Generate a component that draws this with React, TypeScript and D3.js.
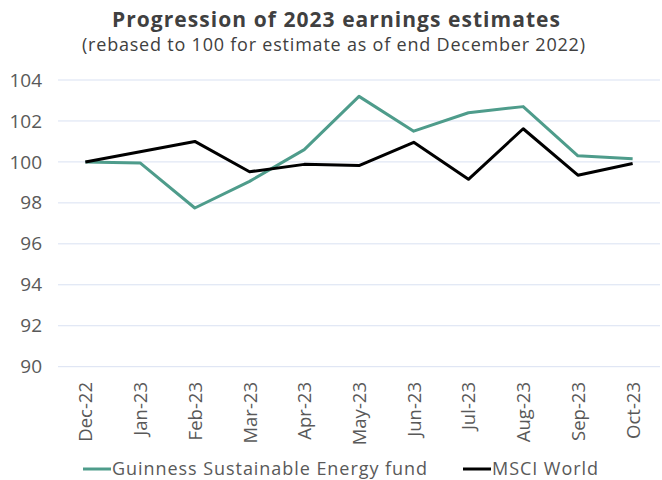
import React, { useEffect, useRef } from "react";
import * as d3 from "d3";

const months = ["Dec-22", "Jan-23", "Feb-23", "Mar-23", "Apr-23", "May-23", "Jun-23", "Jul-23", "Aug-23", "Sep-23", "Oct-23"];
const guinness = [100, 99.95, 97.75, 99.05, 100.6, 103.2, 101.5, 102.4, 102.7, 100.3, 100.15];
const msci = [100, 100.5, 101.0, 99.52, 99.88, 99.82, 100.96, 99.15, 101.62, 99.35, 99.92];
const yTicks = [90, 92, 94, 96, 98, 100, 102, 104];

const seriesNames = ["Guinness Sustainable Energy fund", "MSCI World"];
const seriesColors = ["#4E9C8B", "#000000"];

const W = 662, H = 480;
const FONT = "'Open Sans', 'Noto Sans', sans-serif";

export default function App() {
  const ref = useRef<SVGSVGElement>(null);

  useEffect(() => {
    const svg = d3.select(ref.current);
    svg.selectAll("*").remove();

    const x = d3.scalePoint<string>().domain(months).range([58, 660]).padding(0.5);
    const y = d3.scaleLinear().domain([90, 104]).range([366.7, 80]);

    // title + subtitle
    svg.append("text")
      .attr("x", 336).attr("y", 27)
      .attr("text-anchor", "middle")
      .attr("textLength", 448).attr("lengthAdjust", "spacing")
      .style("font-family", FONT).style("font-size", "21px").style("font-weight", "bold")
      .attr("fill", "#404040")
      .text("Progression of 2023 earnings estimates");
    svg.append("text")
      .attr("x", 333.5).attr("y", 51)
      .attr("text-anchor", "middle")
      .attr("textLength", 503).attr("lengthAdjust", "spacing")
      .style("font-family", FONT).style("font-size", "18px")
      .attr("fill", "#404040")
      .text("(rebased to 100 for estimate as of end December 2022)");

    // gridlines
    svg.append("g").selectAll("line").data(yTicks).enter().append("line")
      .attr("x1", 58).attr("x2", 660)
      .attr("y1", d => y(d)).attr("y2", d => y(d))
      .attr("stroke", "#D9E1F2").attr("stroke-width", 1);

    // y axis labels
    const yAxis = svg.append("g")
      .attr("transform", "translate(42,0)")
      .call(d3.axisLeft(y).tickValues(yTicks).tickSize(0).tickPadding(0));
    yAxis.select(".domain").remove();
    yAxis.selectAll("text")
      .style("font-family", FONT).style("font-size", "19px").attr("fill", "#595959");

    // x axis labels (rotated)
    const xAxis = svg.append("g")
      .attr("transform", "translate(0,382)")
      .call(d3.axisBottom(x).tickSize(0).tickPadding(0));
    xAxis.select(".domain").remove();
    xAxis.selectAll("text")
      .style("font-family", FONT).style("font-size", "18.5px").attr("fill", "#595959")
      .attr("text-anchor", "end")
      .attr("dy", "0.35em")
      .attr("transform", "rotate(-90)")
      .attr("y", 0).attr("x", 0);

    // series lines
    const line = d3.line<number>()
      .x((_, i) => x(months[i]) as number)
      .y(d => y(d));
    [guinness, msci].forEach((data, i) => {
      svg.append("path")
        .datum(data)
        .attr("d", line)
        .attr("fill", "none")
        .attr("stroke", seriesColors[i])
        .attr("stroke-width", 3)
        .attr("stroke-linejoin", "round");
    });

    // legend
    const legendX = [83, 463];
    const legendLen = [315, 106];
    seriesNames.forEach((name, i) => {
      const g = svg.append("g").attr("transform", `translate(${legendX[i]},469)`);
      g.append("line").attr("x1", 0).attr("x2", 28).attr("y1", 0).attr("y2", 0)
        .attr("stroke", seriesColors[i]).attr("stroke-width", 3);
      g.append("text").attr("x", 29).attr("y", 5.5)
        .attr("textLength", legendLen[i]).attr("lengthAdjust", "spacing")
        .style("font-family", FONT).style("font-size", "18px").attr("fill", "#595959")
        .text(name);
    });
  }, []);

  return (
    <svg ref={ref} width={W} height={H}
      style={{ position: "absolute", left: 0, top: 0, display: "block", background: "#fff" }}></svg>
  );
}
